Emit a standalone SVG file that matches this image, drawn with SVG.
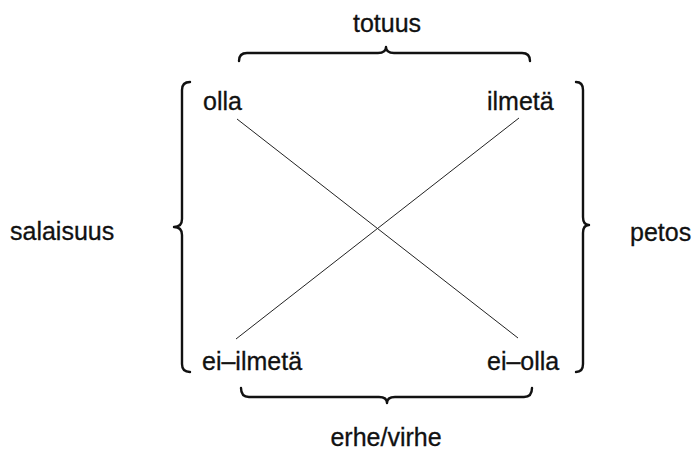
<svg xmlns="http://www.w3.org/2000/svg" width="693" height="452" viewBox="0 0 693 452">
<style>
text{font-family:"Liberation Sans",Arial,sans-serif;font-size:25px;fill:#111;stroke:#111;stroke-width:0.3}
.brace{fill:none;stroke:#111;stroke-width:2.4;stroke-linecap:round;stroke-linejoin:round}
.line{stroke:#222;stroke-width:1}
</style>
<rect width="693" height="452" fill="#fff"/>
<g id="connectors">
<line class="line" x1="237" y1="119" x2="518" y2="338"/>
<line class="line" x1="519" y1="118" x2="236" y2="339"/>
<path class="brace" d="M239,61 Q239,53 247,53 L378,53 Q386,53 386,47 Q386,53 394,53 L522,53 Q530,53 530,61"/>
<path class="brace" d="M190,82 Q182,82 182,90 L182,219 Q182,227 174,227 Q182,227 182,235 L182,364 Q182,372 190,372"/>
<path class="brace" d="M576,82 Q583,82 583,90 L583,217 Q583,225 589,225 Q583,225 583,233 L583,364 Q583,372 576,372"/>
<path class="brace" d="M241,388 Q241,397 249,397 L379,397 Q387,397 387,403 Q387,397 395,397 L524,397 Q532,397 532,388"/>
</g>
<g id="olla"><text x="203" y="110">olla</text></g>
<g id="ilmeta"><text x="487" y="110">ilmetä</text></g>
<g id="ei-ilmeta"><text x="202" y="370">ei–ilmetä</text></g>
<g id="ei-olla"><text x="487" y="370">ei–olla</text></g>
<g id="totuus"><text x="387" y="32" text-anchor="middle">totuus</text></g>
<g id="salaisuus"><text x="10" y="240">salaisuus</text></g>
<g id="petos"><text x="630" y="241">petos</text></g>
<g id="erhe-virhe"><text x="386" y="446" text-anchor="middle">erhe/virhe</text></g>
</svg>
